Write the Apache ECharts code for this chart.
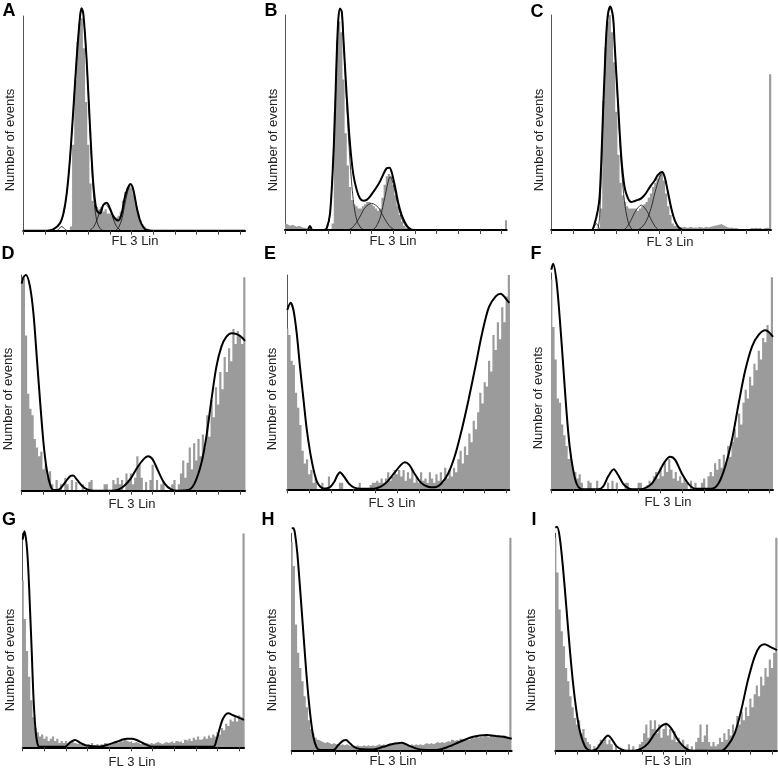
<!DOCTYPE html>
<html><head><meta charset="utf-8">
<script src="https://cdn.jsdelivr.net/npm/echarts@6/dist/echarts.min.js"></script>
<style>html,body{margin:0;padding:0;background:#fff}#c{width:778px;height:770px}</style>
</head><body><div id="c"></div>
<script>
// ---------- tick values (channels, FL 3 Lin) ----------
const tickValues = [0,10,20,30,40,50,60,70,80,90,100];
const panelLetters = ['A','B','C','D','E','F','G','H','I'];
const xTitle = 'FL 3 Lin';
const yTitle = 'Number of events';

// ---------- histograms (one bin per channel unit) ----------
const histA = [
 0,0,0,0,0,0,0,0,0,0,
 0,0,0,0,0,0,0,0,0,0,
 0,0,2,40,70,88,97,99,85,60,
 40,22,14,12,11,10,11,9,10,8,
 8,7,6,6,7,9,14,18,20,21,
 20,17,12,8,5,3,2,1,0.5,0,
 0,0,0,0,0,0,0,0,0,0,
 0,0,0,0,0,0,0,0,0,0,
 0,0,0,0,0,0,0,0,0,0,
 0,0,0,0,0,0,0,0,0,0,
 0,0,0];
const histB = [
 3,2.5,2,2.5,2,1.5,2,1.5,1,1,
 0.5,0,0,0,0,0,0,0,0,0,
 0,0,3,55,88,97,92,70,45,30,
 20,14,12,11,10,10,11,12,13,13,
 12,11,10,9,10,15,21,25,26,25,
 21,16,11,7,4,2,1,0.5,0,0,
 0,0,0,0,0,0,0,0,0,0,
 0,0,0,0,0,0,0,0,0,0,
 0,0,0,0,0,0,0,0,0,0,
 0,0,0,0,0,0,0,0,0,0,
 0,0,4.5];
const histC = [
 0,0,0,0,0,0,0,0,0,0,
 0,0,0,0,0,0,0,0,0,0,
 0,0,0,10,60,85,97,100,92,78,
 55,35,22,16,13,11,10,10,10,10,
 9,10,11,12,13,15,17,20,22,24,
 26,26,23,17,11,7,3,2,1.5,1.5,
 1.2,1.5,1,1.2,1.5,1,1.2,1,1.5,1.2,
 1,1.5,1.2,1.5,1.8,2,2.2,2.5,2.8,2.2,
 1.8,1.2,1,1.2,0.8,1,0.5,0.5,0.3,0.5,
 0.3,0.5,1,0.8,1,0.8,1,0.5,0.8,1,
 1,72.5];
const histD = [
 98,99,72,45,38,35,24,20,16,18,
 10,12,6,9,3,0,5,0,3,0,
 6,3,0,5,0,4,0,0,3,0,
 0,4,5,0,0,0,0,0,3,3,
 0,0,5,3,6,3,5,0,8,5,
 8,3,6,16,12,6,0,4,0,5,
 12,0,5,0,3,4,0,0,0,3,
 5,0,3,8,14,6,13,20,10,22,
 14,24,16,26,20,35,25,42,34,48,
 40,55,47,62,55,66,60,75,68,74,
 72,68,99];
const histE = [
 75,72,60,58,45,38,30,18,12,14,
 7,9,3,5,0,0,3,0,0,6,
 0,0,0,0,3,3,0,0,0,0,
 0,0,0,3,0,0,0,0,2,3,
 3,4,3,5,3,5,8,4,6,9,
 7,9,6,9,4,8,5,9,3,6,
 3,8,4,5,3,8,5,3,7,4,
 8,3,10,5,9,6,10,8,14,18,
 12,20,16,26,22,32,28,36,45,40,
 50,48,60,55,72,65,78,70,85,78,
 90,100];
const histF = [
 97,75,60,42,40,30,25,20,14,16,
 9,8,5,7,3,0,0,4,3,0,
 0,4,0,0,0,0,3,0,4,0,
 3,0,0,0,3,3,0,0,0,0,
 3,3,0,0,2,4,3,6,8,5,
 10,6,12,8,14,9,5,8,4,6,
 3,5,3,0,4,0,3,0,0,3,
 5,0,6,8,6,12,9,14,10,16,
 12,20,15,22,28,24,35,30,40,46,
 42,52,48,58,55,64,60,70,68,76,
 72,98];
const histG = [
 78,60,45,33,22,14,9,7,5,6,
 4,5,3,4,5,3,4,2,3,2,
 3,2,2,3,2,1.5,2,1.5,2,1,
 1.5,1,2,1,1.5,1,1.5,1,2,1.5,
 2,1.5,2,2.5,2,3,2.5,3.5,3,2.5,
 3,2,2.5,2,1.5,2,1.5,2,1.5,2,
 1.5,2,2.5,2,1.5,2,2.5,2,2.5,3,
 2,3,2.5,3,2,3.5,3,4,3,4.5,
 3.5,5,3.5,4,5,4,5.5,4.5,6,5,
 7,6,9,8,11,10,13,12,14,12,
 15,14,100];
const histH = [
 96,85,58,45,38,32,25,20,14,10,
 8,6,5,4.5,4,3.5,4,3.5,3,3.5,
 3,3,2.5,3,2.5,3,2.5,2,2.5,2,
 2.5,2,2,2.5,2,2.5,2,2.5,2,2.5,
 3,2.5,3,2.5,3,3.5,3,3.5,3,3.5,
 3,3.5,3,3,2.5,3,2.5,3,2.5,3,
 2.5,3,3.5,3,3.5,3,3.5,4,3.5,4,
 3.5,4,4.5,4,5,4.5,5,4.5,5.5,5,
 5.5,6,5,6,5.5,6.5,6,6.5,6,7,
 6.5,6,7,6.5,6,7,6.5,6,7,6.5,
 6,98];
const histI = [
 98,82,65,55,48,38,32,25,20,15,
 12,14,8,10,6,4,3,0,2,0,
 3,5,4,6,3,5,3,0,2,0,
 0,0,0,0,3,0,2,0,0,3,
 4,8,12,6,14,10,14,8,12,6,
 10,13,7,10,5,9,4,6,3,5,
 2,3,0,2,0,4,6,12,4,7,
 12,4,2,4,2,3,6,4,8,5,
 10,7,12,9,16,12,18,14,20,16,
 24,20,26,30,25,34,30,38,34,42,
 38,45,98];

// ---------- fitted model curves [channel, events] ----------
const fitA = [[0,0],[10.8,0],[13.8,0.6],[16.9,3.4],[18.5,8],[20,17],[21.5,33],[23,55],[24.6,80],[26.2,100],[26.9,103.6],[27.7,101],[29.2,80],[30.8,48],[32.3,22],[33.8,9.6],[35.4,8],[36.9,12],[38.5,13],[40,10.4],[41.5,6.8],[43.8,4.7],[45.4,8],[46.9,15.8],[48.5,20.5],[49.5,21.7],[50.8,19],[52.3,11],[53.8,5],[55.4,1.6],[56.9,0.3],[60,0],[102.3,0]];
const compA1 = [[13,0],[16,2],[18.5,7.5],[20,17],[21.5,33],[23,55],[24.6,80],[26.2,100],[26.9,103.6],[27.7,101],[29.2,80],[30.8,46],[32.3,18],[33.8,5],[35.4,1],[37,0]];
const compA0 = [[15.4,0],[16.5,0.8],[17.4,1.9],[18.4,1.6],[19.3,0.6],[20.2,0]];
const compA2 = [[30.5,0],[32.3,1.5],[34,5],[35.5,9.5],[37.7,12.4],[40,9.5],[41.5,5.5],[43,2],[45,0]];
const compA3 = [[42.5,0],[44,1.5],[45.5,5.5],[47,13],[48.5,19.5],[49.5,21.5],[50.8,19],[52.3,11],[53.8,5],[55.4,1.6],[57,0]];

const fitB = [[0,0],[10.3,0],[11,1],[11.5,1.9],[12,1],[12.7,0],[17.7,0],[19.2,0.8],[20.8,7.8],[22.3,34],[23.1,56],[23.8,79],[24.6,98],[25.4,103],[26.2,101.5],[26.9,90],[28.5,62],[30,40],[31.5,26],[33.1,18.6],[34.6,14.7],[36.2,13.6],[37.7,14],[39.2,15.5],[40.8,17.8],[42.3,20],[43.8,22.5],[45.4,26],[46.9,28.7],[48.2,29],[49.2,27],[50.8,20],[52.3,12.4],[53.8,7],[55.4,3.4],[56.9,1.2],[59.2,0],[102.3,0]];
const compB1 = [[18,0],[19.5,1],[20.8,7.8],[22.3,34],[23.1,56],[23.8,79],[24.6,98],[25.4,103],[26.2,101.5],[26.9,90],[28.5,58],[30,32],[31.5,14],[33,5],[35,1],[37,0]];
const compB2 = [[29,0],[31,1],[33,3.5],[35,7],[37,10.5],[40,12.4],[43,10.5],[45,7],[47,3.5],[49,1],[51,0]];
const compB3 = [[40.5,0],[42,1.5],[44,6],[46,15],[47.5,22],[48.5,24.8],[49.5,23],[51,17],[52.5,10],[54,5],[56,1.5],[58,0]];

const fitC = [[0,0],[18.5,0],[20,3],[21.5,9.3],[22.3,15.5],[23.1,32.6],[23.8,52.7],[24.6,73],[25.4,91.5],[26.2,100.8],[27.2,104],[28.5,99],[29.2,87],[30.8,59],[32.3,34],[33.8,20],[35.4,14.7],[36.9,13],[38.5,13.5],[40,14],[41.5,14.7],[43.1,16.3],[44.6,18.6],[46.2,21],[47.7,23],[49.2,25.6],[51.1,27],[52.3,24.8],[53.8,17.8],[55.4,10],[56.9,4.7],[58.5,1.6],[60,0.3],[61,0],[101.4,0]];
const compC0 = [[19,0],[20,1.8],[20.8,3],[21.6,1.8],[22.5,0]];
const compC1 = [[21.5,0],[22.3,6],[23.1,28],[23.8,50],[24.6,72],[25.4,91],[26.2,100.5],[27.2,104],[28.5,99],[29.2,87],[30.8,57],[32.3,30],[33.8,13],[35.4,4],[37,0.5],[38,0]];
const compC2 = [[33.5,0],[35,1.5],[37,5],[39,9],[41.5,11.6],[44,9],[46,5],[48,1.5],[49.5,0]];
const compC3 = [[40,0],[42,1.5],[44,4.5],[46,10],[48,18],[50,24.5],[51.3,26.5],[52.3,24.8],[53.8,17.8],[55.4,10],[56.9,4.7],[58.5,1.6],[60,0]];

const fitD = [[0,96],[0.8,99],[2,100],[3.8,94.6],[5.4,82],[6.9,62],[8.5,40.5],[10,22],[11.5,9.6],[13.1,2.6],[14.6,0.3],[16.2,0.3],[17.7,1],[20,4],[22.3,6.8],[23.5,7],[25.4,5],[27.7,2.2],[30,0.6],[33.1,0],[40.8,0],[43.8,0.3],[46.9,2.2],[50,5.7],[53.1,11],[56.2,15],[58,16],[60,14.5],[62.3,9.6],[65.4,3.4],[68.5,0.6],[71.5,0],[76.2,0.3],[79.2,3.4],[82.3,12.7],[84.6,25],[86.9,42],[89.2,57.5],[91.5,66.8],[93.8,71.4],[96.2,73],[98.5,72.6],[100.5,71.4],[102.3,69.5]];
const fitE = [[0,83.7],[1.5,87],[2.8,83.7],[4.3,72.8],[5.8,57],[7.4,41.7],[8.9,27.7],[10.5,16.8],[12,9],[13.5,3.6],[15.1,1.2],[16.5,0.4],[18.2,0.5],[19.7,1.2],[21.5,3.6],[22.8,6.5],[24,8],[25.8,6],[28.2,2.5],[30.5,0.8],[33.5,0.3],[39.6,0.3],[42.6,1.2],[45.6,3.6],[48.7,7.5],[51.8,11.4],[53.6,12.6],[55.6,11.4],[57.9,7.5],[61,3],[64.1,1.2],[67.2,0.9],[70.3,2.8],[73.4,7.5],[76.5,16],[79.5,27.7],[82.6,41.7],[85.7,57],[88.8,72.8],[91.9,85],[95,90],[97.3,91.3],[99.6,89],[101.2,87]];
const fitF = [[0,101.5],[0.8,104.3],[2.3,97],[3.8,80],[5.4,58],[6.9,36.7],[8.4,19.8],[10,9],[11.5,2.8],[13,0.5],[15,0],[21.5,0],[23.7,1.2],[26,5.9],[28.6,9.3],[30.6,6.6],[32.9,2.5],[35.2,0.5],[37,0],[41,0],[42.9,0.5],[45.9,2.5],[49,7.4],[52,12.8],[54.4,15],[56.7,13.6],[59.7,7.4],[62.8,2.5],[65.8,0.3],[73.5,0.3],[76.6,2.8],[79.6,10.5],[82.7,22.8],[85.8,39.8],[88.8,55],[91.9,66],[95,71.5],[98,73.5],[99.8,72.5],[101.5,70.5]];
const fitG = [[0,97],[0.8,101],[1.8,95],[2.6,83],[3.4,64],[4.2,44],[4.9,25],[5.7,11],[6.5,3.4],[7.7,0.3],[19.5,0.3],[21.8,2.2],[24.2,3.4],[26.5,2.2],[29.5,0.8],[35.7,0.3],[38.8,1.1],[43.4,2.6],[48,4],[50.3,4],[52.6,3.4],[55.7,1.9],[59.5,0.3],[88,0.3],[89.5,3.4],[91,8.9],[92.6,13.6],[94.9,15.9],[97.2,15],[99.5,14],[102.2,12.8]];
const fitH = [[0,102.3],[0.8,102.3],[1.5,100],[2.6,90.8],[3.8,75.5],[5.4,54],[6.9,34],[8.5,17.2],[10,6.4],[11.5,1.5],[13.1,0.3],[19.2,0.3],[21.5,2.6],[23.8,4.6],[25.1,4.9],[26.9,3.4],[29.2,1.5],[31.5,0.8],[37.7,0.6],[42.3,1.8],[46.2,3],[50.8,3.7],[54.6,2.1],[59.2,0.6],[66.9,0.3],[71.5,1.5],[77.7,4.1],[83.8,6.4],[90,7.2],[94.6,6.7],[99.2,6.1],[101.6,5.5]];
const fitI = [[0,102.6],[0.8,103],[2,98.5],[3.5,84.7],[5.1,66],[6.6,47.9],[8.2,31],[9.7,18.7],[11.2,9.5],[12.8,4.1],[14.3,1.1],[16.6,0],[18.9,0.6],[21.2,3.7],[23.1,6.1],[24.3,7],[25.8,5.7],[28.2,2.1],[30.5,0.6],[33,0],[36.6,0],[39.7,0.9],[42.8,3.4],[45.8,7.7],[48.9,11.3],[51.2,12.3],[53.5,10.3],[56.6,4.9],[59.7,1.5],[62.8,0],[76.6,0],[79.7,2.6],[82.8,8],[85.8,18.7],[88.9,32.5],[92,43.3],[94.3,47.9],[96.6,49],[98.9,47.9],[102.3,46.3]];

// ---------- layout (pixels) ----------
const panels = [
 {hist:histA, fit:fitA, comps:[compA0,compA1,compA2,compA3], grid:[23.3,16,221.7,214.7], xmax:102.3, letter:[9,11], ylab:[10,140], xlab:[135,241]},
 {hist:histB, fit:fitB, comps:[compB1,compB2,compB3], grid:[285,15,221.7,215], xmax:102.3, letter:[271,11], ylab:[273,140], xlab:[393,241]},
 {hist:histC, fit:fitC, comps:[compC0,compC1,compC2,compC3], grid:[551.3,15,219.7,215], xmax:101.4, letter:[537,12], ylab:[539,140], xlab:[670,242]},
 {hist:histD, fit:fitD, comps:[], grid:[21.7,275,223.3,215.7], xmax:102.3, letter:[8,254], ylab:[8.5,399], xlab:[132,504]},
 {hist:histE, fit:fitE, comps:[], grid:[287.3,275,222,214.3], xmax:101.2, letter:[270,254], ylab:[272,399], xlab:[392,503]},
 {hist:histF, fit:fitF, comps:[], grid:[551.3,273,221.7,216.3], xmax:101.5, letter:[536,254], ylab:[538,398], xlab:[668,502]},
 {hist:histG, fit:fitG, comps:[], grid:[22.7,533.3,221.3,214], xmax:102.2, letter:[9,520], ylab:[10,660], xlab:[132,762]},
 {hist:histH, fit:fitH, comps:[], grid:[291.7,533.3,220,217.4], xmax:101.6, letter:[268,520], ylab:[272,660], xlab:[393,761]},
 {hist:histI, fit:fitI, comps:[], grid:[555.3,533.3,221.7,217.4], xmax:102.3, letter:[534,520], ylab:[531,660], xlab:[668,761]}
];

// histogram bins -> step outline with bin edges at k-0.5 .. k+0.5
function binEdges(h) {
  const pts = h.map((v, k) => [k - 0.5, v]);
  pts.push([h.length - 0.5, h[h.length - 1]]);
  return pts;
}

const FONT = "'Liberation Sans', Arial, sans-serif";
const grids = [], xAxes = [], yAxes = [], series = [], graphics = [];
panels.forEach((p, i) => {
  grids.push({left:p.grid[0], top:p.grid[1], width:p.grid[2], height:p.grid[3], containLabel:false});
  xAxes.push({gridIndex:i, type:'value', min:0, max:p.xmax, z:5,
    axisLine:{show:true, onZero:false, lineStyle:{color:'#000', width:2}},
    axisTick:{show:true, customValues:tickValues, length:4, lineStyle:{color:'#444', width:1}},
    axisLabel:{show:false}, splitLine:{show:false}});
  yAxes.push({gridIndex:i, type:'value', min:0, max:100,
    axisLine:{show:true, onZero:false, lineStyle:{color:'#555', width:1}},
    axisTick:{show:false}, axisLabel:{show:false}, splitLine:{show:false}});
  series.push({type:'line', xAxisIndex:i, yAxisIndex:i, step:'end', symbol:'none', silent:true,
    data:binEdges(p.hist), lineStyle:{width:0, color:'#9b9b9b'},
    areaStyle:{color:'#9b9b9b', opacity:1}, z:1});
  p.comps.forEach(c => series.push({type:'line', xAxisIndex:i, yAxisIndex:i, data:c, smooth:0.3,
    symbol:'none', silent:true, clip:false, lineStyle:{color:'#111', width:0.8}, z:3}));
  series.push({type:'line', xAxisIndex:i, yAxisIndex:i, data:p.fit, smooth:0.3, symbol:'none',
    silent:true, clip:false, lineStyle:{color:'#000', width:2}, z:4});
  graphics.push({type:'text', x:p.letter[0], y:p.letter[1], style:{text:panelLetters[i], font:"bold 18px "+FONT, fill:'#000', align:'center', verticalAlign:'middle', textAlign:'center', textVerticalAlign:'middle'}});
  graphics.push({type:'text', x:p.ylab[0], y:p.ylab[1], rotation:Math.PI/2, style:{text:yTitle, font:"13px "+FONT, fill:'#222', align:'center', verticalAlign:'middle', textAlign:'center', textVerticalAlign:'middle'}});
  graphics.push({type:'text', x:p.xlab[0], y:p.xlab[1], style:{text:xTitle, font:"13px "+FONT, fill:'#222', align:'center', verticalAlign:'middle', textAlign:'center', textVerticalAlign:'middle'}});
});

const chart = echarts.init(document.getElementById('c'), null, {renderer:'canvas'});
chart.setOption({animation:false, backgroundColor:'#fff', grid:grids, xAxis:xAxes, yAxis:yAxes, series:series, graphic:graphics});
</script></body></html>
